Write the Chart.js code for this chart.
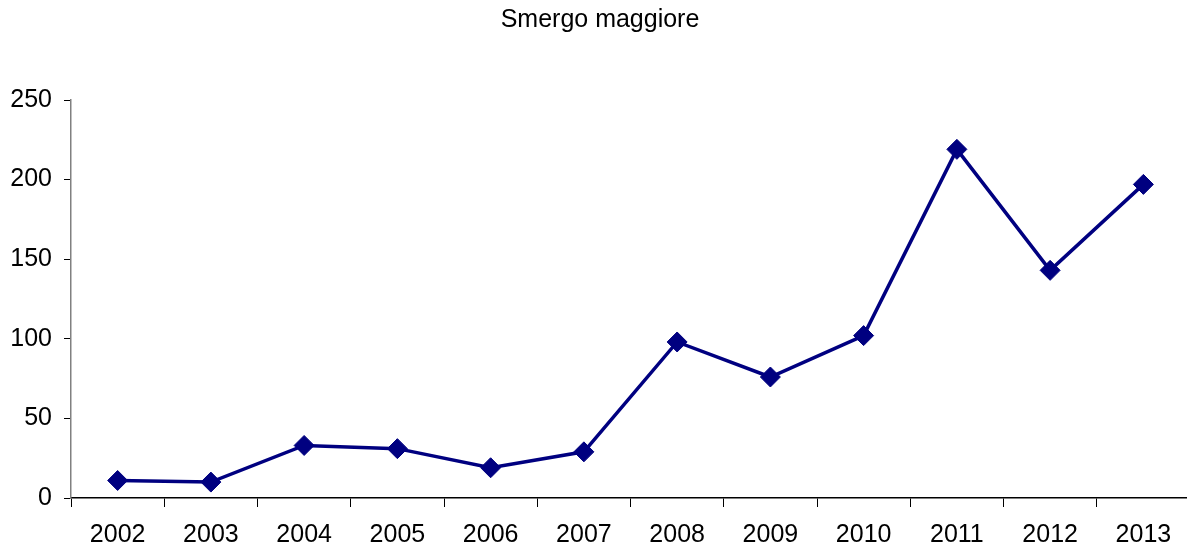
<!DOCTYPE html>
<html>
<head>
<meta charset="utf-8">
<script src="https://cdn.jsdelivr.net/npm/chart.js@4"></script>
<style>
  html, body { margin: 0; padding: 0; background: #fff; overflow: hidden; }
  #wrap { width: 1187px; height: 547px; overflow: hidden; }
</style>
</head>
<body>
<div id="wrap"><canvas id="myChart" width="1201" height="563"></canvas></div>
<script>
let years = ['2002', '2003', '2004', '2005', '2006', '2007', '2008', '2009', '2010', '2011', '2012', '2013'];
let counts = [11, 10, 33, 31, 19, 29, 98, 76, 102, 219, 143, 197];
let yTicks = [0, 50, 100, 150, 200, 250];

let ctx = document.getElementById('myChart').getContext('2d');

let smergoChart = new Chart(ctx, {
    type: 'line',
    data: {
        labels: years,
        datasets: [{
            label: 'Smergo maggiore',
            data: counts,
            borderColor: '#000080',
            backgroundColor: '#000080',
            borderWidth: 3.5,
            pointStyle: 'rectRot',
            pointRadius: 10,
            pointBorderWidth: 1,
            tension: 0
        }]
    },
    options: {
        responsive: false,
        animation: false,
        layout: {
            padding: { left: 0, right: 1, top: 0, bottom: 0 }
        },
        plugins: {
            legend: { display: false },
            tooltip: { enabled: false },
            title: {
                display: true,
                text: 'Smergo maggiore',
                color: '#000',
                font: { family: 'Liberation Sans', size: 25, weight: 'normal' },
                padding: { top: 5, bottom: 65 }
            }
        },
        scales: {
            x: {
                offset: true,
                grid: {
                    offset: true,
                    drawOnChartArea: false,
                    color: '#000',
                    tickLength: 9
                },
                border: { color: '#000', width: 1.5 },
                ticks: {
                    color: '#000',
                    padding: 13,
                    font: { family: 'Liberation Sans', size: 25 }
                }
            },
            y: {
                min: 0,
                max: 250,
                afterBuildTicks: axis => {
                    axis.ticks = yTicks.map(v => ({ value: v }));
                },
                afterFit: axis => { axis.width = 71; },
                grid: {
                    drawOnChartArea: false,
                    color: '#000',
                    tickLength: 7
                },
                border: { color: '#808080', width: 1.5 },
                ticks: {
                    color: '#000',
                    padding: 12,
                    font: { family: 'Liberation Sans', size: 25 }
                }
            }
        }
    }
});
</script>
</body>
</html>
